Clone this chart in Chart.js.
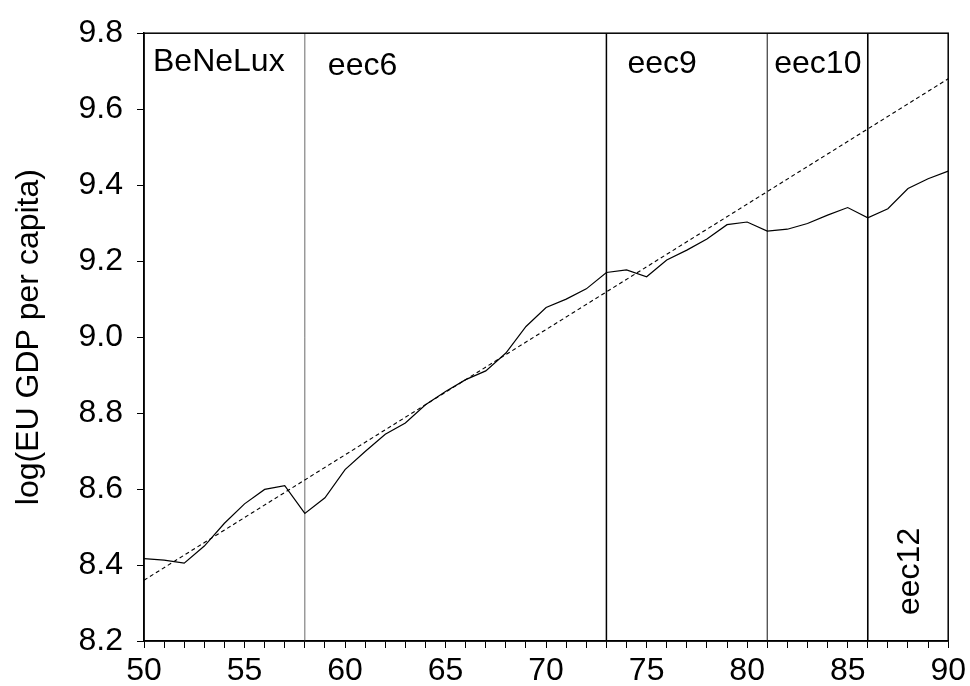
<!DOCTYPE html>
<html>
<head>
<meta charset="utf-8">
<script src="https://cdn.jsdelivr.net/npm/chart.js@4.4.0/dist/chart.umd.min.js"></script>
<style>
  html, body { margin: 0; padding: 0; background: #fff; }
  #wrap { width: 970px; height: 686px; }
</style>
</head>
<body>
<div id="wrap"><canvas id="grafico" width="970" height="686"></canvas></div>
<script>
// datos
const years = [50,51,52,53,54,55,56,57,58,59,60,61,62,63,64,65,66,67,68,69,70,
               71,72,73,74,75,76,77,78,79,80,81,82,83,84,85,86,87,88,89,90];
const gdp = [8.417,8.413,8.405,8.450,8.510,8.561,8.599,8.609,8.536,8.577,8.651,
             8.699,8.744,8.774,8.822,8.857,8.888,8.911,8.958,9.028,9.078,
             9.100,9.127,9.170,9.177,9.159,9.203,9.229,9.258,9.296,9.303,
             9.279,9.284,9.299,9.321,9.341,9.314,9.338,9.391,9.417,9.437];
const trendYears = [50, 90];
const trendVals = [8.36, 9.68];
const enlargeYears = [58, 73, 81, 86];
const enlargeNames = ['eec6', 'eec9', 'eec10', 'eec12'];
const yTicks = [8.2, 8.4, 8.6, 8.8, 9.0, 9.2, 9.4, 9.6, 9.8];

const FONT = 'Liberation Sans, Arial, sans-serif';
const lineColors = ['#6a6a6a', '#000', '#3a3a3a', '#000'];
const lineWidths = [1, 1.5, 1.2, 1.6];

const serie = years.map((y, i) => ({ x: y, y: gdp[i] }));
const tendencia = trendYears.map((y, i) => ({ x: y, y: trendVals[i] }));

const verticales = enlargeYears.map((yr, i) => ({
    data: [{ x: yr, y: yTicks[0] }, { x: yr, y: yTicks[yTicks.length - 1] }],
    borderColor: lineColors[i],
    borderWidth: lineWidths[i],
    pointRadius: 0,
    tension: 0
}));

// marco y textos
const marco = {
    id: 'marco',
    afterDatasetsDraw(chart) {
        const { ctx, chartArea: a, scales } = chart;
        ctx.save();
        ctx.strokeStyle = '#000';
        ctx.lineWidth = 1.5;
        ctx.strokeRect(a.left, a.top, a.right - a.left, a.bottom - a.top);

        ctx.fillStyle = '#000';
        ctx.font = '32px ' + FONT;
        ctx.textBaseline = 'alphabetic';
        ctx.textAlign = 'left';
        const xs = scales.x;
        ctx.fillText('BeNeLux', xs.getPixelForValue(years[0]) + 9, a.top + 38);
        ctx.fillText(enlargeNames[0], xs.getPixelForValue(enlargeYears[0]) + 23, a.top + 42);
        ctx.fillText(enlargeNames[1], xs.getPixelForValue(enlargeYears[1]) + 21, a.top + 40);
        ctx.fillText(enlargeNames[2], xs.getPixelForValue(enlargeYears[2]) + 7, a.top + 40);

        ctx.translate(xs.getPixelForValue(enlargeYears[3]) + 51, a.bottom - 26);
        ctx.rotate(-Math.PI / 2);
        ctx.fillText(enlargeNames[3], 0, 0);
        ctx.restore();
    }
};

new Chart(document.getElementById('grafico'), {
    type: 'line',
    data: {
        datasets: [
            {
                data: serie,
                borderColor: '#000',
                borderWidth: 1.2,
                pointRadius: 0,
                tension: 0
            },
            {
                data: tendencia,
                borderColor: '#000',
                borderWidth: 1.1,
                borderDash: [4, 3],
                pointRadius: 0,
                tension: 0
            },
            ...verticales
        ]
    },
    options: {
        responsive: false,
        animation: false,
        layout: { padding: { top: 31, right: 21, left: 0, bottom: 0 } },
        plugins: {
            legend: { display: false },
            tooltip: { enabled: false }
        },
        scales: {
            x: {
                type: 'linear',
                min: years[0],
                max: years[years.length - 1],
                afterFit: s => { s.height = 45; },
                border: { display: true, color: '#000', width: 1.5 },
                grid: { drawOnChartArea: false, drawTicks: true, tickLength: 7, color: '#000', lineWidth: 1 },
                ticks: {
                    stepSize: 1,
                    autoSkip: false,
                    maxRotation: 0,
                    padding: 4,
                    color: '#000',
                    font: { family: FONT, size: 32 },
                    callback: v => (v % 5 === 0 ? String(v) : '')
                }
            },
            y: {
                min: yTicks[0],
                max: yTicks[yTicks.length - 1],
                afterFit: s => { s.width = 144; },
                afterBuildTicks: s => { s.ticks = yTicks.map(v => ({ value: v })); },
                border: { display: true, color: '#000', width: 1.5 },
                grid: { drawOnChartArea: false, drawTicks: true, tickLength: 7, color: '#000', lineWidth: 1 },
                title: {
                    display: true,
                    text: 'log(EU GDP per capita)',
                    color: '#000',
                    font: { family: FONT, size: 32 },
                    padding: { top: 10, bottom: 0 }
                },
                ticks: {
                    padding: 14,
                    color: '#000',
                    font: { family: FONT, size: 32 },
                    callback: v => Number(v).toFixed(1)
                }
            }
        }
    },
    plugins: [marco]
});
</script>
</body>
</html>
